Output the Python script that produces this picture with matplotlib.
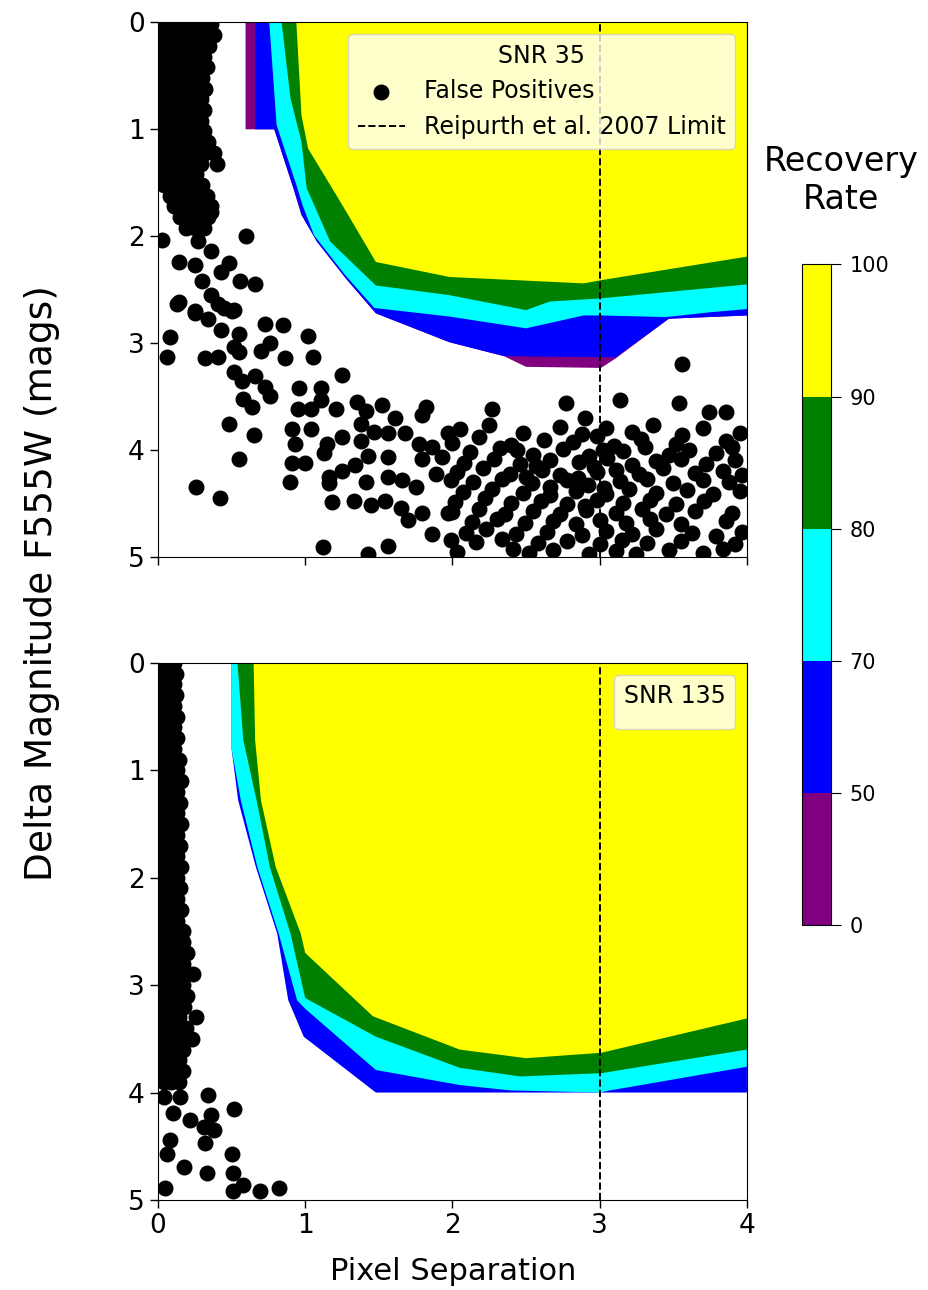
import matplotlib
matplotlib.use("Agg")
import matplotlib.pyplot as plt
from matplotlib.colors import ListedColormap, BoundaryNorm
from matplotlib.colorbar import ColorbarBase

# ---------------- data ----------------
levels = [0, 50, 70, 80, 90, 100]
level_colors = ["purple", "blue", "cyan", "green", "yellow"]
cbar_ticks = [0, 50, 70, 80, 90, 100]
x_ticks = [0, 1, 2, 3, 4]
y_ticks = [0, 1, 2, 3, 4, 5]
limit_sep = 3.0

# contour boundaries (region with recovery >= level), SNR 35
top_x0 = [0.595, 0.595, 0.79, 0.92, 0.975, 1.08, 1.28, 1.48, 1.98, 2.35, 2.50, 3.01, 3.11, 3.47, 4.0]
top_y0 = [0.0, 1.0, 1.0, 1.55, 1.80, 2.05, 2.40, 2.72, 2.99, 3.12, 3.22, 3.23, 3.14, 2.77, 2.74]
top_x50 = [0.66, 0.66, 0.79, 0.92, 0.975, 1.08, 1.28, 1.48, 1.98, 2.35, 3.0, 3.11, 3.47, 4.0]
top_y50 = [0.0, 1.0, 1.0, 1.55, 1.80, 2.05, 2.40, 2.72, 2.99, 3.12, 3.13, 3.13, 2.77, 2.74]
top_x70 = [0.756, 0.806, 0.94, 0.985, 1.06, 1.27, 1.47, 1.98, 2.50, 2.89, 3.01, 3.45, 3.75, 4.0]
top_y70 = [0.0, 0.96, 1.52, 1.72, 1.99, 2.36, 2.67, 2.75, 2.86, 2.74, 2.74, 2.755, 2.71, 2.68]
top_x80 = [0.84, 0.90, 0.975, 1.01, 1.17, 1.48, 1.98, 2.50, 2.66, 3.01, 4.0]
top_y80 = [0.0, 0.71, 1.12, 1.55, 2.05, 2.46, 2.55, 2.69, 2.61, 2.58, 2.45]
top_x90 = [0.94, 0.975, 1.02, 1.24, 1.48, 1.98, 2.89, 3.01, 4.0]
top_y90 = [0.0, 0.87, 1.18, 1.68, 2.24, 2.38, 2.44, 2.41, 2.19]

# contour boundaries, SNR 135
bot_x50 = [0.50, 0.50, 0.545, 0.665, 0.81, 0.885, 0.99, 1.48, 4.0]
bot_y50 = [0.0, 0.80, 1.28, 1.90, 2.52, 3.14, 3.48, 4.0, 4.0]
bot_x70 = [0.50, 0.50, 0.563, 0.675, 0.82, 0.945, 1.0, 1.48, 2.05, 2.39, 3.0, 3.07, 4.0]
bot_y70 = [0.0, 0.80, 1.28, 1.90, 2.52, 3.14, 3.22, 3.79, 3.93, 3.98, 4.0, 3.98, 3.76]
bot_x80 = [0.54, 0.58, 0.67, 0.76, 0.90, 1.0, 1.48, 2.05, 2.46, 3.01, 4.0]
bot_y80 = [0.0, 0.72, 1.28, 1.90, 2.52, 3.12, 3.48, 3.77, 3.85, 3.82, 3.60]
bot_x90 = [0.65, 0.66, 0.70, 0.80, 0.97, 1.0, 1.46, 2.05, 2.50, 3.01, 4.0]
bot_y90 = [0.0, 0.72, 1.28, 1.90, 2.52, 2.70, 3.29, 3.60, 3.68, 3.63, 3.31]

# false positives, SNR 35: dense column near zero separation (delta mag, separations)
top_fp_rows = [
    (0.02, [0.03, 0.10, 0.17, 0.24, 0.30, 0.36]),
    (0.12, [0.05, 0.12, 0.19, 0.26, 0.33, 0.38]),
    (0.22, [0.02, 0.09, 0.15, 0.22, 0.28, 0.35]),
    (0.32, [0.05, 0.11, 0.18, 0.25, 0.31]),
    (0.42, [0.02, 0.08, 0.15, 0.21, 0.27, 0.33]),
    (0.52, [0.04, 0.11, 0.18, 0.24, 0.30]),
    (0.62, [0.02, 0.08, 0.14, 0.21, 0.27, 0.32]),
    (0.72, [0.05, 0.11, 0.17, 0.23, 0.29]),
    (0.82, [0.02, 0.08, 0.14, 0.20, 0.26, 0.31]),
    (0.92, [0.04, 0.10, 0.17, 0.23, 0.29]),
    (1.02, [0.02, 0.07, 0.13, 0.19, 0.25, 0.31]),
    (1.12, [0.04, 0.10, 0.16, 0.22, 0.28, 0.34]),
    (1.22, [0.02, 0.08, 0.14, 0.20, 0.26, 0.32, 0.38]),
    (1.32, [0.05, 0.11, 0.17, 0.23, 0.29, 0.40]),
    (1.42, [0.02, 0.08, 0.14, 0.20, 0.26]),
    (1.52, [0.04, 0.10, 0.16, 0.22, 0.30]),
    (1.62, [0.08, 0.14, 0.20, 0.27, 0.33]),
    (1.72, [0.11, 0.18, 0.24, 0.31, 0.36]),
    (1.82, [0.15, 0.22, 0.28, 0.34]),
    (1.92, [0.19, 0.25, 0.31]),
]
# scattered false positives, SNR 35 (separation, delta mag)
top_fp_extra = [
    (0.115, 1.71), (0.23, 1.58), (0.32, 1.61), (0.36, 1.77), (0.30, 1.89), (0.025, 2.03),
    (0.60, 2.00), (0.27, 2.04), (0.14, 2.24), (0.25, 2.27), (0.36, 2.14), (0.48, 2.25),
    (0.30, 2.42), (0.43, 2.33), (0.56, 2.42), (0.66, 2.45), (0.14, 2.61), (0.36, 2.55),
    (0.25, 2.70), (0.45, 2.67), (0.50, 2.70),
    (0.127, 2.63), (0.25, 2.72), (0.34, 2.77), (0.41, 2.63), (0.52, 2.69), (0.43, 2.88),
    (0.55, 2.91), (0.73, 2.82), (0.85, 2.83), (1.02, 2.93), (0.08, 2.94), (0.06, 3.13),
    (0.32, 3.14), (0.41, 3.13), (0.52, 3.03), (0.55, 3.08), (0.70, 3.07), (0.76, 3.00),
    (0.86, 3.14), (1.05, 3.13), (0.52, 3.27), (0.57, 3.35), (0.66, 3.31), (0.73, 3.41),
    (0.76, 3.49), (0.58, 3.52), (0.64, 3.60), (1.25, 3.30), (0.96, 3.42), (1.11, 3.42),
    (1.11, 3.53), (0.95, 3.61), (1.04, 3.61), (1.21, 3.61), (1.35, 3.55), (1.41, 3.63),
    (1.52, 3.58), (1.82, 3.60), (1.79, 3.67), (1.61, 3.70), (1.38, 3.75), (0.48, 3.75),
    (0.65, 3.86), (0.91, 3.80), (1.04, 3.80), (0.93, 3.94), (1.15, 3.94), (1.25, 3.88),
    (1.38, 3.91), (1.47, 3.83), (1.56, 3.84), (1.68, 3.84), (1.77, 3.94), (1.86, 3.97),
    (1.97, 3.84), (0.55, 4.08), (0.91, 4.12), (1.00, 4.12), (1.13, 4.03), (1.43, 4.05),
    (1.56, 4.06), (1.79, 4.08), (1.93, 4.06), (1.34, 4.14), (1.16, 4.25), (1.25, 4.19),
    (1.41, 4.30), (1.56, 4.25), (1.66, 4.28), (1.75, 4.34), (1.89, 4.22), (1.99, 4.28),
    (0.26, 4.34), (0.90, 4.30), (1.16, 4.31), (0.42, 4.45), (1.18, 4.48), (1.33, 4.47),
    (1.45, 4.51), (1.54, 4.47), (1.65, 4.54), (1.70, 4.65), (1.79, 4.59), (1.86, 4.78),
    (1.97, 4.59), (1.99, 4.84), (1.12, 4.90), (1.43, 4.97), (1.56, 4.89),
    (3.56, 3.19), (2.27, 3.61), (2.77, 3.56), (3.14, 3.53), (3.54, 3.56), (3.74, 3.64),
    (3.86, 3.64),
    (2.05, 3.80), (2.25, 3.76), (2.48, 3.84), (2.73, 3.78), (2.88, 3.85), (3.04, 3.79),
    (3.22, 3.83), (3.36, 3.76), (3.56, 3.86), (3.70, 3.79), (3.95, 3.84),
    (2.00, 3.93), (2.18, 3.88), (2.40, 3.95), (2.62, 3.90), (2.82, 3.92), (2.98, 3.87),
    (3.10, 3.96), (3.28, 3.89), (3.52, 3.94), (3.86, 3.91), (2.90, 3.70),
    (2.12, 4.02), (2.32, 3.98), (2.55, 4.04), (2.75, 3.99), (2.93, 4.05), (3.16, 4.01),
    (3.31, 3.97), (3.47, 4.04), (3.61, 4.00), (3.79, 4.03), (3.90, 3.97), (2.44, 4.00),
    (3.02, 4.00),
    (2.08, 4.12), (2.28, 4.08), (2.46, 4.13), (2.66, 4.09), (2.86, 4.11), (3.05, 4.07),
    (3.22, 4.14), (3.38, 4.10), (3.55, 4.08), (3.72, 4.13), (3.92, 4.09), (2.57, 4.15),
    (2.96, 4.16),
    (2.03, 4.20), (2.21, 4.17), (2.39, 4.22), (2.61, 4.18), (2.73, 4.23), (2.98, 4.20),
    (3.11, 4.18), (3.27, 4.22), (3.43, 4.17), (3.65, 4.21), (3.84, 4.19), (3.97, 4.23),
    (2.50, 4.25), (2.85, 4.26),
    (2.14, 4.30), (2.34, 4.27), (2.54, 4.31), (2.78, 4.28), (2.92, 4.32), (3.14, 4.29),
    (3.32, 4.27), (3.50, 4.31), (3.70, 4.28), (3.88, 4.30), (3.03, 4.35), (2.66, 4.34),
    (2.07, 4.39), (2.27, 4.36), (2.48, 4.40), (2.66, 4.42), (2.84, 4.38), (3.04, 4.41),
    (3.20, 4.36), (3.38, 4.40), (3.59, 4.37), (3.77, 4.41), (3.95, 4.38),
    (2.02, 4.48), (2.22, 4.45), (2.40, 4.49), (2.60, 4.47), (2.78, 4.50), (2.98, 4.46),
    (3.16, 4.49), (3.34, 4.46), (3.52, 4.50), (3.71, 4.47), (2.90, 4.52),
    (2.00, 4.58), (2.18, 4.55), (2.36, 4.60), (2.55, 4.57), (2.73, 4.60), (2.91, 4.56),
    (3.11, 4.59), (3.29, 4.55), (3.45, 4.60), (3.65, 4.57), (3.90, 4.59),
    (2.13, 4.67), (2.30, 4.64), (2.49, 4.68), (2.68, 4.66), (2.84, 4.69), (3.00, 4.65),
    (3.18, 4.68), (3.34, 4.64), (3.55, 4.69), (3.86, 4.66),
    (2.09, 4.77), (2.23, 4.74), (2.43, 4.78), (2.64, 4.76), (2.88, 4.79), (3.04, 4.75),
    (3.22, 4.78), (3.38, 4.74), (3.63, 4.77), (3.79, 4.80), (3.97, 4.76),
    (2.16, 4.86), (2.34, 4.83), (2.58, 4.87), (2.78, 4.85), (3.00, 4.88), (3.15, 4.84),
    (3.32, 4.87), (3.55, 4.85), (3.92, 4.88),
    (2.03, 4.95), (2.41, 4.92), (2.52, 4.96), (2.68, 4.93), (2.93, 4.97), (3.11, 4.94),
    (3.25, 4.97), (3.47, 4.93), (3.70, 4.96), (3.84, 4.92),
]

# false positives, SNR 135
bot_fp_rows = [
    (0.00, [0.03, 0.07, 0.11]), (0.10, [0.05, 0.09, 0.12]),
    (0.20, [0.03, 0.07, 0.11]), (0.30, [0.05, 0.09, 0.12]),
    (0.40, [0.03, 0.07, 0.11]), (0.50, [0.05, 0.09, 0.13]),
    (0.60, [0.03, 0.07, 0.11]), (0.70, [0.05, 0.09, 0.13]),
    (0.80, [0.03, 0.07, 0.11]), (0.90, [0.05, 0.09, 0.14]),
    (1.00, [0.03, 0.08, 0.13]), (1.10, [0.05, 0.10, 0.16]),
    (1.20, [0.03, 0.08, 0.13]), (1.30, [0.05, 0.10, 0.15]),
    (1.40, [0.03, 0.08, 0.13]), (1.50, [0.05, 0.10, 0.16]),
    (1.60, [0.03, 0.08, 0.13]), (1.70, [0.05, 0.10, 0.15]),
    (1.80, [0.03, 0.08, 0.13]), (1.90, [0.05, 0.10, 0.16]),
    (2.00, [0.03, 0.08, 0.13]), (2.10, [0.05, 0.10, 0.15]),
    (2.20, [0.03, 0.08, 0.13]), (2.30, [0.05, 0.10, 0.16]),
    (2.40, [0.03, 0.08, 0.13]), (2.50, [0.05, 0.10, 0.17]),
    (2.60, [0.02, 0.07, 0.12, 0.17]), (2.70, [0.04, 0.09, 0.14, 0.20]),
    (2.80, [0.02, 0.07, 0.12, 0.17]), (2.90, [0.04, 0.09, 0.14, 0.24]),
    (3.00, [0.02, 0.07, 0.12, 0.17]), (3.10, [0.04, 0.09, 0.14, 0.20]),
    (3.20, [0.02, 0.07, 0.12, 0.18]), (3.30, [0.04, 0.09, 0.14, 0.26]),
    (3.40, [0.02, 0.07, 0.12, 0.19]), (3.50, [0.04, 0.09, 0.14, 0.23]),
    (3.60, [0.02, 0.07, 0.12, 0.17]), (3.70, [0.04, 0.09, 0.14]),
    (3.80, [0.02, 0.07, 0.12, 0.17]), (3.90, [0.04, 0.09, 0.14]),
]
bot_fp_extra = [
    (0.34, 4.02), (0.52, 4.15), (0.36, 4.21), (0.22, 4.26), (0.31, 4.32), (0.38, 4.35),
    (0.32, 4.47), (0.08, 4.44), (0.06, 4.57), (0.50, 4.57), (0.18, 4.69), (0.33, 4.75),
    (0.51, 4.75), (0.58, 4.86), (0.51, 4.92), (0.69, 4.92), (0.82, 4.89), (0.05, 4.89),
    (0.10, 4.19), (0.04, 4.04), (0.15, 4.04),
]


def flatten(rows, extra):
    xs, ys = [], []
    for y, xrow in rows:
        for x in xrow:
            xs.append(x)
            ys.append(y)
    for x, y in extra:
        xs.append(x)
        ys.append(y)
    return xs, ys


top_fp_x, top_fp_y = flatten(top_fp_rows, top_fp_extra)
bot_fp_x, bot_fp_y = flatten(bot_fp_rows, bot_fp_extra)


def fill_region(ax, xs, ys, color):
    px = list(xs) + [4.0]
    py = list(ys) + [0.0]
    ax.fill(px, py, color=color, lw=0, zorder=1)


# ---------------- figure ----------------
fig = plt.figure(figsize=(9.29, 12.9), dpi=100)
ax1 = fig.add_axes([0.170, 0.568, 0.634, 0.4147])
ax2 = fig.add_axes([0.170, 0.0698, 0.634, 0.4163])
cax = fig.add_axes([0.863, 0.283, 0.032, 0.512])

top_bounds = [(top_x0, top_y0), (top_x50, top_y50), (top_x70, top_y70),
              (top_x80, top_y80), (top_x90, top_y90)]
bot_bounds = [None, (bot_x50, bot_y50), (bot_x70, bot_y70),
              (bot_x80, bot_y80), (bot_x90, bot_y90)]

for ax, bounds, fx, fy in [(ax1, top_bounds, top_fp_x, top_fp_y),
                           (ax2, bot_bounds, bot_fp_x, bot_fp_y)]:
    for i, b in enumerate(bounds):
        if b is None:
            continue
        fill_region(ax, b[0], b[1], level_colors[i])
    line = ax.axvline(limit_sep, color="black", ls="--", lw=1.4, zorder=2,
                      label="Reipurth et al. 2007 Limit")
    sc = ax.scatter(fx, fy, s=110, color="black", zorder=3, label="False Positives")
    ax.set_xlim(0, 4)
    ax.set_ylim(5, 0)
    ax.set_xticks(x_ticks)
    ax.set_yticks(y_ticks)
    ax.tick_params(labelsize=19, length=6, width=1)
    if ax is ax1:
        ax.tick_params(labelbottom=False)
        ax.legend(handles=[sc, line], title="SNR 35", loc="upper right",
                  fontsize=17, title_fontsize=17)
    else:
        ax.legend(handles=[], title="SNR 135", loc="upper right",
                  fontsize=17, title_fontsize=17)

fig.text(0.045, 0.548, "Delta Magnitude F555W (mags)", rotation=90,
         ha="center", va="center", fontsize=27)
fig.text(0.488, 0.014, "Pixel Separation", ha="center", va="center", fontsize=22)

cmap = ListedColormap(level_colors)
norm = BoundaryNorm(levels, cmap.N)
cb = ColorbarBase(cax, cmap=cmap, norm=norm, ticks=cbar_ticks, spacing="uniform")
cb.ax.tick_params(labelsize=15, length=7, pad=6)
fig.text(0.905, 0.860, "Recovery\nRate", ha="center", va="center", fontsize=24)

fig.savefig("out.png", dpi=100)
